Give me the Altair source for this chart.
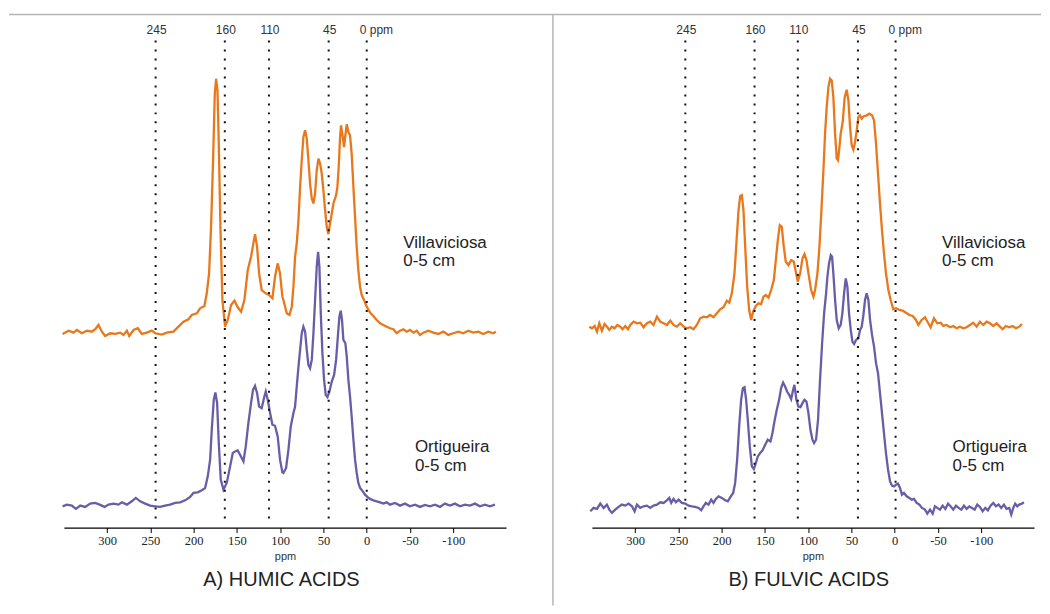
import altair as alt
import pandas as pd

ORANGE = "#E9781C"
PURPLE = "#6A5CA7"
SANS = "Liberation Sans"
SERIF = "Liberation Serif"

# ---- spectra: (ppm, intensity in arbitrary units, stacked) ----
HA_VILLA = [
    (351.5, 194), (344.6, 197.3), (338.8, 195.3), (335, 198), (329.2, 194.7), (323.4, 197.3),
    (317.7, 196.3), (313.8, 198.7), (310, 203), (306.1, 196.3), (302.3, 192), (296.5, 194.7),
    (290.7, 194), (285, 195.3), (281.1, 193), (277.2, 197.3), (274.5, 192), (269.5, 198),
    (264.5, 199.7), (260, 194), (254.2, 195.3), (248.4, 197.3), (244.5, 194.7), (236.8, 193.3),
    (231, 195.3), (223.4, 196.3), (217.6, 201.3), (211.8, 206.3), (206, 208.7), (202.2, 213),
    (196.4, 214.7), (192.6, 219.7), (187.6, 222), (184.9, 234.7), (182.2, 254.7), (179.9, 301.3),
    (177.6, 368), (175.6, 434.7), (174.1, 449.7), (172.5, 438), (171, 384.7), (169.1, 301.3),
    (166.8, 228), (163.7, 201.3), (160.6, 208), (156.8, 223), (152.9, 227.3), (149.1, 220.7),
    (145.2, 216.3), (141.4, 228), (137.5, 258), (133.7, 271.3), (131.4, 283), (129.1, 294),
    (126.7, 281.3), (124.4, 254.7), (121.4, 238), (116.7, 234.7), (112.9, 233), (109, 229.7),
    (106, 251.3), (102.9, 264.7), (100.2, 254.7), (97.5, 231.3),
    (96.3, 228), (92.4, 214.7), (89.3, 213), (86.6, 221.3), (84.7, 241.3), (82.8, 271.3),
    (80.9, 284.7), (78.9, 308), (77, 341.3), (75.1, 368), (73.2, 391.3), (71.2, 398),
    (69.3, 389.7), (67.4, 368), (65.5, 344.7), (63.5, 329.7), (61.6, 324.7), (59.7, 334.7),
    (57.8, 358), (55.8, 369.7), (53.9, 364.7), (52, 354.7), (50.1, 338), (48.1, 318),
    (46.2, 301.3), (44.3, 294), (42.4, 304.7), (40.4, 314.7), (38.5, 324.7), (35.4, 333),
    (33.9, 341.3), (32.4, 361.3), (30.8, 391.3), (29.7, 403), (27.7, 391.3), (26.2, 381.3),
    (24.7, 393), (23.1, 404), (21.2, 396.3), (19.3, 393), (17.4, 374.7), (15.4, 341.3),
    (13.5, 311.3), (11.6, 281.3), (9.7, 258), (7.7, 241.3), (5.8, 233), (3.1, 228),
    (0.8, 223), (-1.9, 218), (-4.6, 214.7), (-7.7, 212), (-11.5, 208), (-15.4, 204.7),
    (-19.2, 203), (-23.1, 201.3), (-26.9, 199.7), (-30.8, 198.7), (-34.6, 194.7), (-38.5, 197.3),
    (-42.3, 198.7), (-46.2, 196.3), (-50, 198), (-53.9, 195.3), (-57.7, 197.3), (-61.6, 193),
    (-65.4, 195.3), (-71.2, 197.3), (-77, 195.3), (-82.7, 194), (-88.5, 196.3), (-94.3, 193),
    (-100.1, 194.7), (-105.8, 196.3), (-111.6, 194.7), (-117.4, 197.3), (-123.2, 195.3),
    (-129, 196.3), (-134.7, 194), (-140.5, 196.3), (-146.2, 194.7), (-149.3, 196.3),
]

HA_ORTIG = [
    (351.5, 21.3), (346.5, 23), (340.8, 22), (336.1, 18.7), (331.1, 22), (325.4, 20.7),
    (319.6, 24), (313.8, 24.7), (308, 22.7), (303, 20.7), (298.4, 23), (292.6, 24),
    (286.9, 23), (283, 25.3), (277.2, 23), (271.5, 26.3), (266.9, 29.7), (261.8, 26.3),
    (256.1, 24), (250.3, 22), (244.5, 21.3), (238.8, 20.7), (233, 22), (227.2, 23),
    (221.4, 24.7), (215.7, 25.3), (209.9, 27.3), (204.1, 30.7), (200.3, 34.7), (195.3, 35.3),
    (190.6, 37.3), (186.8, 39.7), (183.7, 51.3), (181, 68), (179.1, 98), (176.8, 128),
    (174.9, 135.3), (172.9, 124.7), (171, 84.7), (168.7, 48), (165.6, 38), (161.8, 44.7),
    (157.9, 61.3), (154.8, 74.7), (152.1, 76.3), (149.1, 77.3), (146.4, 73), (142.5, 66.3),
    (139.8, 81.3), (136.8, 104.7), (133.7, 124.7), (131.4, 138), (129.1, 142), (126.7, 134.7),
    (124.4, 121.3), (121.4, 119.7), (118.3, 131.3), (116.7, 136.3), (114.4, 128), (111.7, 114.7),
    (109, 103), (106, 102), (102.9, 91.3), (100.2, 68), (97.5, 55.3),
    (96.3, 54.7), (93.2, 59.7), (90.5, 78), (87.8, 101.3), (84.7, 114.7), (82.8, 121.3),
    (80.9, 141.3), (78.9, 161.3), (77, 178), (75.1, 194.7), (73.2, 201.3), (71.2, 196.3),
    (69.3, 178), (67.4, 163), (65.5, 159.7), (63.5, 168), (61.6, 194.7), (59.7, 228),
    (57.8, 261.3), (56.2, 276.3), (54.7, 261.3), (53.1, 214.7), (51.2, 174.7), (49.3, 148),
    (47.4, 133), (45.4, 130.7), (43.1, 136.3), (40.4, 146.3), (37.7, 153), (35.4, 168),
    (33.1, 194.7), (31.6, 211.3), (30.05, 217.3), (28.5, 207.3), (27, 188), (24.7, 184.7),
    (23.1, 171.3), (21.2, 148), (19.3, 131.3), (17.4, 111.3), (15.4, 88), (13.5, 68),
    (11.6, 54.7), (9.7, 44.7), (7.7, 39.7), (4.6, 36.3), (2, 33), (-0.7, 30.7),
    (-3.8, 28.7), (-7.7, 27.3), (-11.5, 26.3), (-15.4, 25.3), (-19.2, 24), (-23.1, 25.3),
    (-26.9, 23), (-32.7, 24.7), (-38.5, 22), (-44.2, 24), (-50, 21.3), (-55.8, 23),
    (-61.6, 20.7), (-67.3, 22.7), (-73.1, 21.3), (-78.9, 23), (-84.7, 20.7), (-90.4, 24),
    (-96.2, 22), (-102, 24), (-107.8, 21.3), (-113.5, 23), (-119.3, 22), (-125.1, 24),
    (-130.8, 21.3), (-136.6, 23), (-142.4, 21.3), (-148.2, 23),
]

FA_VILLA = [
    (353, 201.3), (349.9, 199.7), (346.8, 202), (344.1, 196.3), (341.4, 204.7), (338.4, 197.3),
    (335.3, 204), (332.6, 201.3), (329.9, 198), (326.8, 201.3), (323.7, 199.7), (320.6, 203),
    (317.2, 201.3), (314.5, 198.7), (311.4, 202), (308.3, 198.7), (305.6, 203), (301.8, 206.3),
    (297.9, 204.7), (294.1, 205.3), (290.2, 200.7), (286.4, 204.7), (282.5, 206.3), (278.7, 203),
    (274.8, 211.3), (271, 206.3), (267.1, 204.7), (263.3, 203), (259.4, 207.3), (255.6, 203),
    (251.7, 201.3), (247.9, 204.7), (244, 201.3), (240.2, 199.7), (236.4, 200.7), (232.5, 198.7),
    (228.7, 203), (224.8, 209.7), (221, 211.3), (217.1, 210.7), (213.3, 213), (209.4, 210.7),
    (205.6, 214.7), (201.7, 218.7), (197.9, 220.7), (194, 227.3), (191.3, 225.3), (188.2, 234.7),
    (185.2, 254.7), (182.5, 291.3), (180.5, 318), (178.6, 332), (176.7, 333), (174.8, 318),
    (172.8, 281.3), (170.5, 241.3), (168.2, 218), (165.9, 208), (163.6, 216.3), (160.5, 222),
    (157.4, 224.7), (154.4, 224), (151.7, 231.3), (149, 233), (145.9, 230.3), (142.8, 238),
    (139.7, 248), (137.4, 268), (135.1, 288), (132.8, 303), (130.5, 301.3), (128.2, 281.3),
    (125.9, 266.3), (122.8, 263), (119.7, 268), (116.6, 266.3), (114.3, 256.3), (112, 246.3),
    (109.3, 254.7), (106.6, 269.7), (104.3, 274), (102, 268), (99.7, 254.7), (96.6, 238),
    (93.9, 231.3), (92, 238), (89.3, 254.7), (87, 281.3), (84.7, 318), (82.4, 358),
    (80.5, 394.7), (78.6, 421.3), (76.6, 441.3), (74.7, 449.7), (72.8, 448), (70.9, 431.3),
    (68.9, 394.7), (67, 369.7), (65.5, 368), (63.9, 381.3), (62.4, 394.7), (60.1, 406.3),
    (57.8, 431.3), (55.5, 438.7), (53.5, 428), (51.6, 401.3), (49.7, 383), (47.8, 378.7),
    (45.8, 386.3), (43.9, 398), (42, 411.3), (40.1, 413), (38.1, 409.7), (36.2, 412),
    (32.4, 413), (29.3, 414.7), (26.2, 413), (23.9, 408), (21.6, 384.7), (19.3, 354.7),
    (17, 324.7), (14.7, 298), (12.4, 274.7), (10.1, 254.7), (7.3, 238), (4.7, 228),
    (1.6, 218.7), (-1.5, 219.7), (-5.4, 218), (-9.2, 217.3), (-13.1, 215.3), (-16.9, 213),
    (-20.8, 212), (-24.6, 208), (-27.3, 203), (-31.1, 208), (-35, 210.7), (-38.8, 204.7),
    (-41.5, 200.7), (-45.4, 209.7), (-49.2, 204.7), (-53.1, 205.3), (-56.2, 202), (-60, 203),
    (-63.9, 200.7), (-67.7, 202), (-71.6, 199.7), (-75.4, 201.3), (-79.3, 199.7), (-83.1, 200.7),
    (-87, 203), (-90.8, 205.3), (-94.7, 201.3), (-98.5, 206.3), (-102.4, 203), (-106.2, 206.3),
    (-110.1, 204.7), (-113.9, 202), (-117.8, 204.7), (-121.6, 201.3), (-124.7, 198.7),
    (-128.5, 202), (-132.4, 200.7), (-136.2, 202), (-140.1, 199.7), (-143.9, 201.3), (-147, 204),
]

FA_ORTIG = [
    (351.8, 16.3), (348, 19.7), (344.1, 18.7), (340.3, 24), (336.4, 19.7), (332.6, 23),
    (329.9, 18), (326.8, 14.7), (323, 18), (319.1, 20.7), (315.3, 23), (311.4, 22),
    (307.6, 24), (303.7, 21.3), (300.6, 16.3), (297.9, 23), (294.1, 19.7), (290.2, 21.3),
    (286.4, 22), (282.5, 19.7), (278.7, 22), (274.8, 23), (271, 25.3), (267.1, 24.7),
    (263.3, 27.3), (260.6, 29.7), (258.3, 24.7), (255.6, 28.7), (252.9, 25.3), (249.8, 28),
    (246, 24.7), (242.1, 24), (238.3, 22), (234.4, 21.3), (230.6, 20.7), (226.7, 19.7),
    (223.6, 17.3), (221, 21.3), (218.3, 24.7), (215.2, 23), (212.1, 28), (209.4, 24.7),
    (206.7, 28.7), (203.6, 31.3), (199.8, 29.7), (195.9, 27.3), (192.9, 26.3), (189.8, 30.7),
    (186.7, 34.7), (184.4, 44.7), (182.1, 68), (179.8, 101.3), (177.5, 128), (175.5, 139.7),
    (173.6, 140.7), (171.7, 128), (169.8, 108), (167.5, 81.3), (165.1, 61.3), (162.8, 58.7),
    (160.5, 64.7), (158.2, 71.3), (155.5, 74.7), (152.8, 77.3), (149.7, 83), (146.7, 88),
    (143.6, 86.3), (141.3, 94.7), (139, 106.3), (136.3, 118), (133.6, 128), (131.3, 139.7),
    (129, 145.3), (126.7, 141.3), (124.4, 136.3), (122, 133), (119.7, 128.7), (117.4, 138),
    (115.9, 143), (113.6, 128), (111.3, 121.3), (108.9, 120.7), (106.6, 124.7), (104.3, 128),
    (102, 126.3), (99.7, 114.7), (97.4, 98), (95.1, 88),
    (93.2, 84.7), (90.9, 88), (88.6, 108), (86.3, 148), (83.9, 184.7), (81.6, 214.7),
    (79.3, 234.7), (77.8, 251.3), (75.9, 264.7), (73.9, 273), (72.4, 271.3), (70.9, 254.7),
    (68.9, 228), (67, 208), (64.7, 199.7), (62.4, 203), (60.5, 214.7), (58.5, 234.7),
    (56.6, 249.7), (54.7, 241.3), (52.8, 214.7), (50.8, 198), (48.9, 186.3), (47, 184),
    (44.7, 188), (42, 189.7), (40.1, 198), (38.1, 201.3), (36.2, 213), (34.3, 228),
    (32.4, 234.7), (30.4, 228), (28.5, 208), (26.2, 193), (23.9, 181.3), (21.6, 164.7),
    (19.3, 154.7), (17, 134.7), (14.7, 114.7), (12.4, 94.7), (10.1, 74.7), (7.7, 58),
    (5.4, 46.3), (3.1, 42), (0.8, 41.3), (-1.5, 43), (-3.8, 44), (-6.1, 39.7),
    (-8.4, 33), (-10.7, 34.7), (-13.8, 31.3), (-16.9, 29.7), (-19.6, 28), (-22.3, 28.7),
    (-25.4, 24.7), (-28.5, 23), (-31.5, 19.7), (-35, 18), (-37.7, 14), (-40.8, 18),
    (-43.9, 14), (-46.5, 21.3), (-49.2, 19.7), (-52.3, 18), (-55.4, 22), (-58.5, 18.7),
    (-61.6, 24), (-64.6, 21.3), (-67.7, 18), (-70.8, 22), (-73.9, 19.7), (-77, 18),
    (-80, 22), (-83.1, 18.7), (-86.2, 21.3), (-89.3, 19.7), (-92.4, 18), (-95.4, 23),
    (-98.5, 20.7), (-101.6, 16.3), (-104.7, 19.7), (-107.7, 17.3), (-110.8, 22), (-113.9, 24.7),
    (-117, 21.3), (-120.1, 23), (-123.1, 19.7), (-126.2, 23), (-129.3, 18.7), (-132.4, 19.7),
    (-134.7, 13), (-137, 19.7), (-139.3, 24), (-141.6, 21.3), (-143.9, 23), (-147, 24),
    (-149.3, 25.3),
]

SAMPLES = ["Villaviciosa", "Ortigueira"]
DEPTH = "0-5 cm"
MARK_LABELS = ["245", "160", "110", "45", "0 ppm"]
HA_MARK_PPM = [244, 164, 113, 44, 0]
FA_MARK_PPM = [242, 162, 112, 42.5, -1]
X_TICKS = [300, 250, 200, 150, 100, 50, 0, -50, -100]
X_DOMAIN = [-161, 350]
Y_DOMAIN = [0, 514]
PANEL_TITLES = ["A) HUMIC ACIDS", "B) FULVIC ACIDS"]

W, H = 443, 514


def one(d):
    return alt.Data(values=[d])


def panel(villa, ortig, marks, title, title_x, villa_x, ortig_x, frame):
    df = pd.DataFrame(
        [{"ppm": p, "int": v, "sample": SAMPLES[0]} for p, v in villa]
        + [{"ppm": p, "int": v, "sample": SAMPLES[1]} for p, v in ortig]
    )
    x = alt.X(
        "ppm:Q",
        scale=alt.Scale(domain=X_DOMAIN, reverse=True, nice=False, zero=False),
        axis=alt.Axis(
            values=X_TICKS, title="ppm", grid=False, labelExpr="'' + datum.value",
            domainColor="#000", domainWidth=1.2, tickColor="#000", tickSize=5, tickWidth=1,
            labelFont=SERIF, labelFontSize=12.5, labelColor="#222", labelPadding=2,
            titleFont=SANS, titleFontSize=11, titleFontWeight="normal", titleColor="#333",
            titlePadding=3,
        ),
    )
    lines = alt.Chart(df).mark_line(strokeWidth=2.3).encode(
        x=x,
        y=alt.Y("int:Q", scale=alt.Scale(domain=Y_DOMAIN, nice=False, zero=False), axis=None),
        color=alt.Color("sample:N", scale=alt.Scale(domain=SAMPLES, range=[ORANGE, PURPLE]), legend=None),
        detail="sample:N",
    )
    mdf = pd.DataFrame({"ppm": marks, "label": MARK_LABELS, "last": [0, 0, 0, 0, 1]})
    rules = alt.Chart(mdf).mark_rule(color="#111", strokeWidth=2, strokeDash=[2, 7]).encode(
        x="ppm:Q", y=alt.value(26), y2=alt.value(510)
    )
    labs = alt.Chart(mdf).transform_filter("datum.last == 0").mark_text(
        font=SANS, fontSize=12, color="#333", baseline="middle", align="center", dx=1
    ).encode(x="ppm:Q", y=alt.value(15), text="label:N")
    lab0 = alt.Chart(mdf).transform_filter("datum.last == 1").mark_text(
        font=SANS, fontSize=12, color="#333", baseline="middle", align="left", dx=-7
    ).encode(x="ppm:Q", y=alt.value(15), text="label:N")

    texts = []
    for name, lx, ly in [(SAMPLES[0], villa_x, 228.6), (SAMPLES[1], ortig_x, 433.6)]:
        for k, t in enumerate([name, DEPTH]):
            texts.append(
                alt.Chart(one({"t": t})).mark_text(
                    font=SANS, fontSize=17, color="#222", align="left", baseline="middle"
                ).encode(x=alt.value(lx), y=alt.value(ly + 18.5 * k), text="t:N")
            )
    ttl = alt.Chart(one({"t": title})).mark_text(
        font=SANS, fontSize=20, color="#222", align="center", baseline="middle"
    ).encode(x=alt.value(title_x), y=alt.value(566.5), text="t:N")

    layers = [lines, rules, labs, lab0, ttl] + texts
    if frame:
        top = alt.Chart(one({"a": 1})).mark_rule(color="#b5b5b5", strokeWidth=1.5).encode(
            x=alt.value(-55), x2=alt.value(979), y=alt.value(0)
        )
        sep = alt.Chart(one({"a": 1})).mark_rule(color="#b5b5b5", strokeWidth=1.5).encode(
            x=alt.value(490), y=alt.value(0), y2=alt.value(592)
        )
        layers += [top, sep]
    return alt.layer(*layers).properties(width=W, height=H)


pa = panel(HA_VILLA, HA_ORTIG, HA_MARK_PPM, PANEL_TITLES[0], 218, 340, 351.7, True)
pb = panel(FA_VILLA, FA_ORTIG, FA_MARK_PPM, PANEL_TITLES[1], 217.3, 350.7, 361.3, False)

chart = alt.hconcat(
    pa, pb, spacing=86, bounds="flush",
    padding={"left": 0, "top": 5, "right": 0, "bottom": 0},
).configure_view(stroke=None)

chart.save("out.html", embed_options={"renderer": "svg", "actions": False})
